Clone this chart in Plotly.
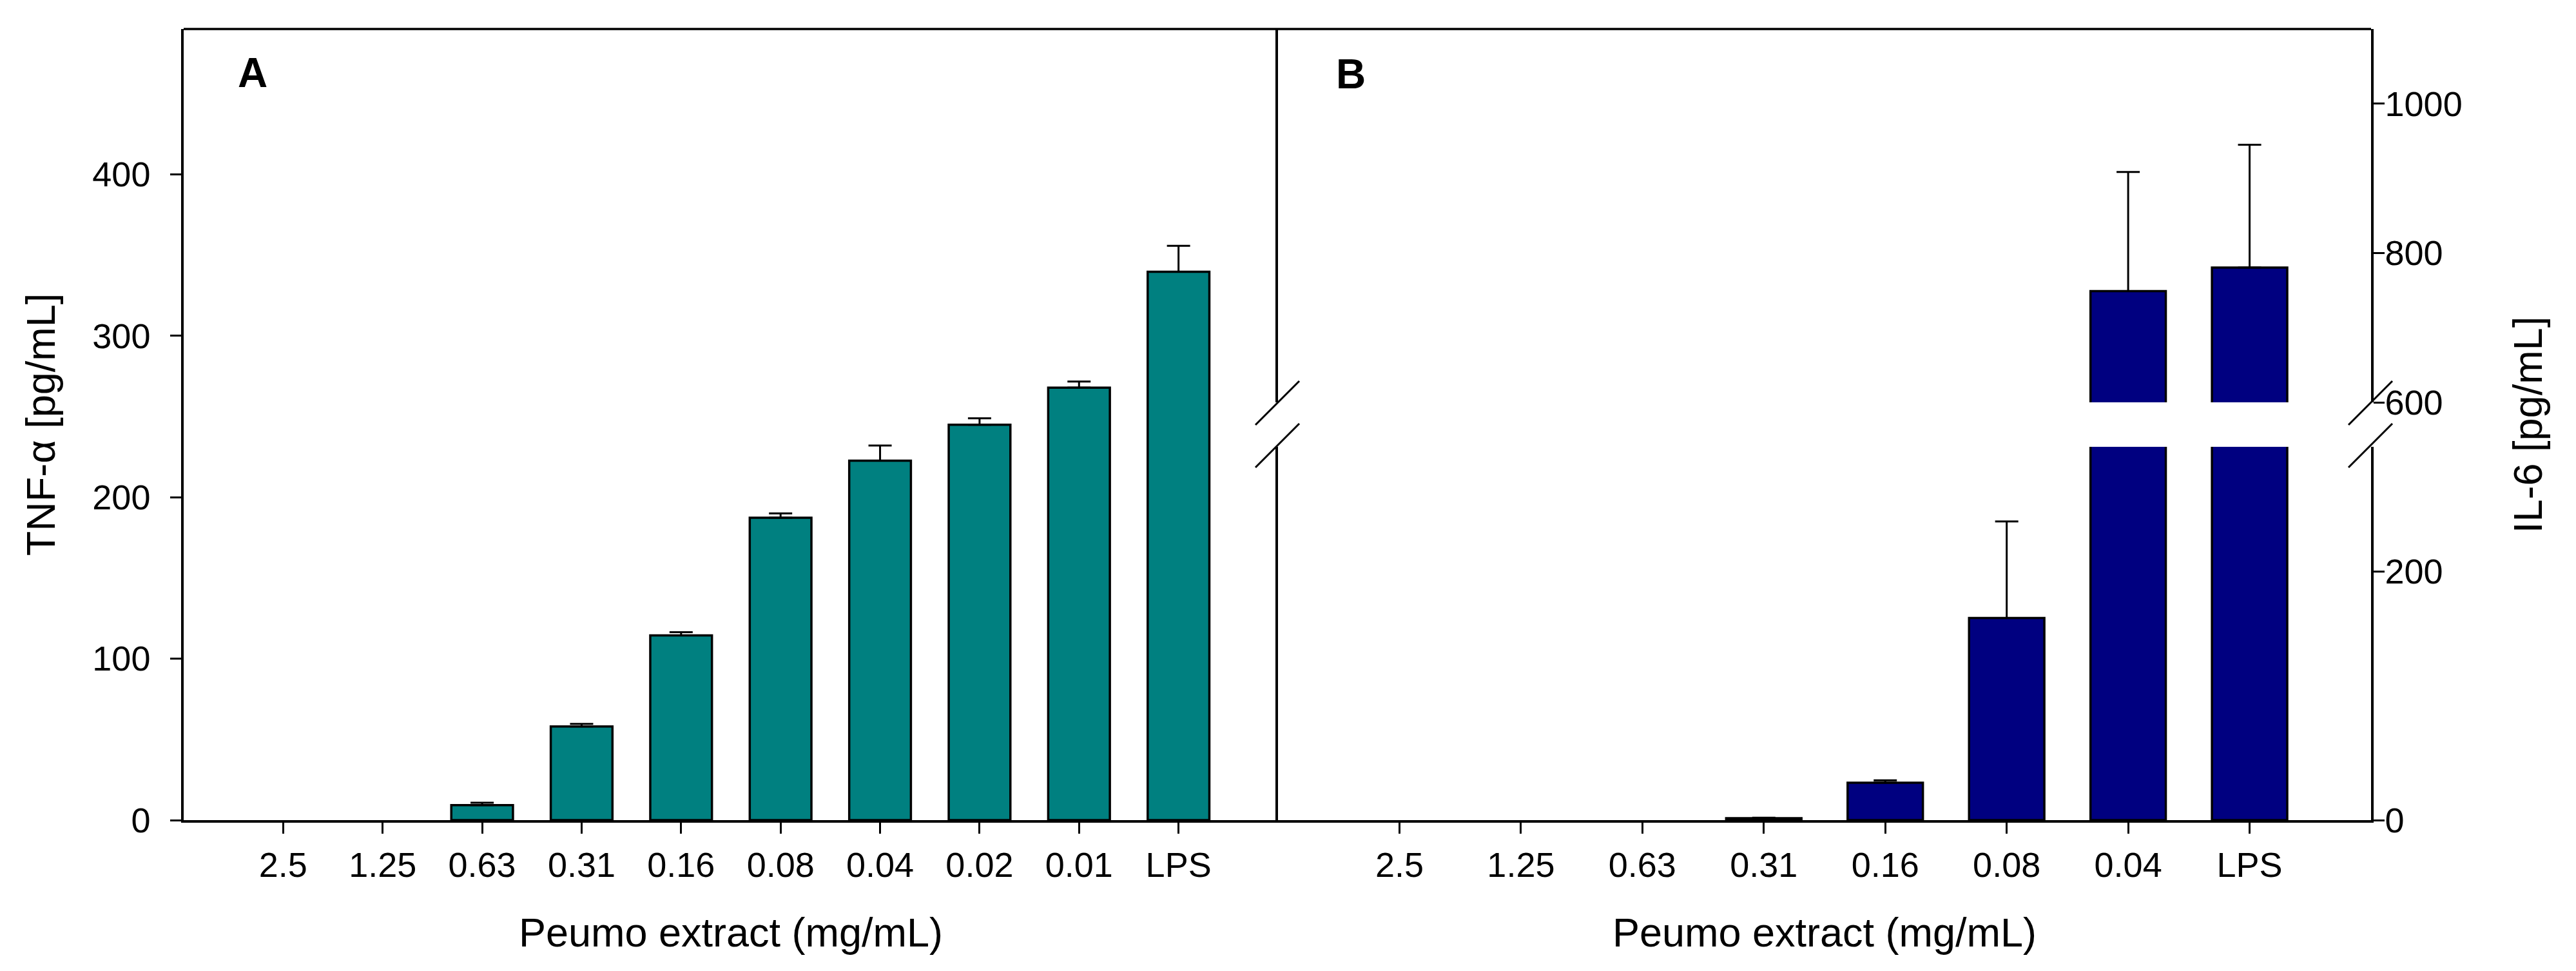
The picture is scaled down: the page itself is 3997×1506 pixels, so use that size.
import numpy as np
import plotly.graph_objects as go

# ---------------- data ----------------
conc_A = ["2.5", "1.25", "0.63", "0.31", "0.16", "0.08", "0.04", "0.02", "0.01", "LPS"]
tnf_mean = [0, 0, 9.3, 58, 114.4, 187.3, 222.6, 244.9, 267.9, 339.6]
tnf_err = [None, None, 1.5, 1.6, 2.0, 2.7, 9.4, 4.0, 3.8, 16.1]

conc_B = ["2.5", "1.25", "0.63", "0.31", "0.16", "0.08", "0.04", "LPS"]
il6_mean = [0, 0, 0, 1.5, 30, 162.5, 749, 780.5]
il6_err = [None, None, None, 0.5, 2.0, 77.5, 159.5, 164.5]

# ---------------- geometry ----------------
W, H = 3997, 1506
L, R, T, B = 277, 3671, 37, 1264          # plot area in pixels
PW, PH = R - L, B - T
X_DIV = 1975                               # divider between panels
Y_UP_BOT = 616                             # bottom of upper segment (panel B)
Y_LO_TOP = 685                             # top of lower segment (panel B)


def px(x):
    return (x - L) / PW


def py(y):
    return (B - y) / PH


FONT = "Arial, Liberation Sans, sans-serif"
TEAL = "#008080"
NAVY = "#000080"
LW = 3.5

err_common = dict(type="data", symmetric=False, thickness=3, width=18, color="black")


def outline_widths(values):
    # empty (zero-height) bars show no outline
    return [LW if v > 0 else 0 for v in values]


def err_plus(errs):
    # missing error -> NaN so that no error bar is drawn
    return np.array([np.nan if e is None else e for e in errs], dtype=float)


def err_minus(errs):
    # one-sided (upper) error bars; NaN where there is no error bar at all
    return np.array([np.nan if e is None else 0.0 for e in errs], dtype=float)


fig = go.Figure()
fig.add_trace(go.Bar(
    x=conc_A, y=tnf_mean, xaxis="x", yaxis="y",
    marker=dict(color=TEAL, line=dict(color="black", width=outline_widths(tnf_mean))),
    error_y=dict(array=err_plus(tnf_err), arrayminus=err_minus(tnf_err), **err_common),
    showlegend=False,
))
for ya in ["y2", "y3"]:
    fig.add_trace(go.Bar(
        x=conc_B, y=il6_mean, xaxis="x2", yaxis=ya,
        marker=dict(color=NAVY, line=dict(color="black", width=outline_widths(il6_mean))),
        error_y=dict(array=err_plus(il6_err), arrayminus=err_minus(il6_err), **err_common),
        showlegend=False,
    ))

tickfont = dict(family=FONT, size=54, color="black")
titlefont = dict(family=FONT, size=63, color="black")
axis_common = dict(showline=True, linecolor="black", linewidth=LW, ticks="outside",
                   ticklen=17, tickwidth=3, tickcolor="black", showgrid=False,
                   zeroline=False, tickfont=tickfont)

d1 = py(Y_LO_TOP)
d2 = py(Y_UP_BOT)

fig.update_layout(
    width=W, height=H,
    margin=dict(l=L, r=W - R, t=T, b=H - B, pad=0),
    paper_bgcolor="white", plot_bgcolor="white",
    bargap=0.38,
    font=dict(family=FONT, color="black"),
    xaxis=dict(domain=[0, px(X_DIV)], range=[-1, 10], type="category", anchor="y",
               title=dict(text="Peumo extract (mg/mL)", font=titlefont, standoff=55),
               ticklabelstandoff=2, **axis_common),
    yaxis=dict(domain=[0, 1], range=[0, 490], dtick=100, tick0=0, anchor="x",
               title=dict(text="TNF-α [pg/mL]", font=titlefont, standoff=38),
               ticklabelstandoff=20, **axis_common),
    xaxis2=dict(domain=[px(X_DIV), 1], range=[-1, 8], type="category", anchor="y2",
                title=dict(text="Peumo extract (mg/mL)", font=titlefont, standoff=55),
                ticklabelstandoff=2, **axis_common),
    yaxis2=dict(domain=[0, d1], range=[0, 300], dtick=200, tick0=0, anchor="x2",
                side="right", mirror=True, ticklabelstandoff=-10, **axis_common),
    yaxis3=dict(domain=[d2, 1], range=[600, 1100], dtick=200, tick0=0, anchor="x2",
                side="right", mirror=True, ticklabelstandoff=-10, **axis_common),
)

shapes = []
# top border across both panels
shapes.append(dict(type="line", xref="paper", yref="paper", x0=0, x1=1, y0=1, y1=1,
                   line=dict(color="black", width=LW)))
# axis-break slashes on both sides of panel B
for xb in (X_DIV, R):
    for yb in (Y_UP_BOT, Y_LO_TOP - 3):
        shapes.append(dict(type="line", xref="paper", yref="paper",
                           x0=px(xb - 35), y0=py(yb + 35), x1=px(xb + 33), y1=py(yb - 33),
                           line=dict(color="black", width=3)))
fig.update_layout(shapes=shapes)

annotations = [
    dict(text="<b>A</b>", x=px(384), y=py(105), xref="paper", yref="paper",
         showarrow=False, xanchor="center", yanchor="middle",
         font=dict(family=FONT, size=64, color="black")),
    dict(text="<b>B</b>", x=px(2088), y=py(107), xref="paper", yref="paper",
         showarrow=False, xanchor="center", yanchor="middle",
         font=dict(family=FONT, size=64, color="black")),
    dict(text="IL-6 [pg/mL]", x=px(3914), y=py(651), xref="paper", yref="paper",
         showarrow=False, xanchor="center", yanchor="middle", textangle=-90,
         font=titlefont),
]
fig.update_layout(annotations=annotations)

fig.write_html("out.html")
